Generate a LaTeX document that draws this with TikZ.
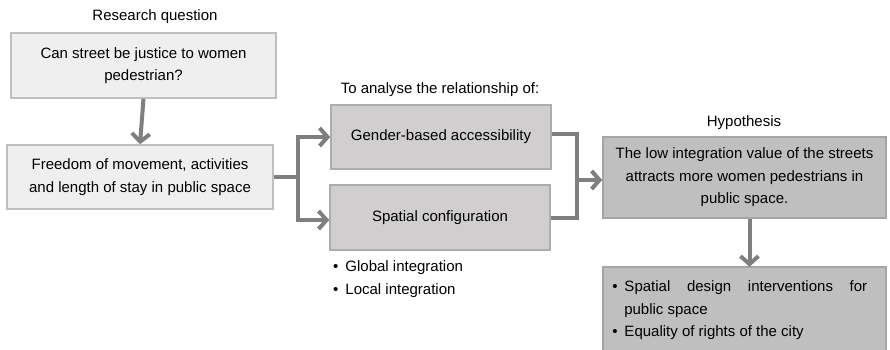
\documentclass[tikz,border=0pt]{standalone}
\usepackage{fontspec}
\setmainfont{Liberation Sans}
\usetikzlibrary{arrows.meta}
\definecolor{arrowgray}{HTML}{7F7F7F}
\definecolor{lightfill}{HTML}{EFEFEF}
\definecolor{lightborder}{HTML}{BFBFBF}
\definecolor{midfill}{HTML}{D0CECE}
\definecolor{midborder}{HTML}{ADADAD}
\definecolor{darkfill}{HTML}{BFBFBF}
\definecolor{darkborder}{HTML}{A5A5A5}
\tikzset{
  every node/.style={font=\fontsize{15}{22.5}\selectfont, inner sep=0pt},
  lightbox/.style={draw=lightborder, fill=lightfill, line width=1.5pt, align=center},
  midbox/.style={draw=midborder, fill=midfill, line width=1.5pt, align=center},
  darkbox/.style={draw=darkborder, fill=darkfill, line width=1.5pt, align=center},
  conn/.style={draw=arrowgray, line width=4pt},
  arr/.style={conn, -{Straight Barb[length=8pt,width=18pt]}},
}
\newcommand{\bul}{\textbullet\hspace*{7pt}}
\begin{document}
\begin{tikzpicture}[x=1pt,y=-1pt]
\useasboundingbox (0,0) rectangle (890,349);
% research question
\node (rql) at (155,17) {Research question};
\node[lightbox, minimum width=265pt, minimum height=65pt] (q) at (143.5,65.5)
  {Can street be justice to women\\pedestrian?};
\node[lightbox, minimum width=266pt, minimum height=64pt] (f) at (140,177)
  {Freedom of movement, activities\\and length of stay in public space};
% relationship
\node (rel) at (440,90) {To analyse the relationship of:};
\node[midbox, minimum width=220pt, minimum height=64pt] (g) at (441,137)
  {Gender-based accessibility};
\node[midbox, minimum width=220pt, minimum height=65pt] (s) at (440,217.5)
  {Spatial configuration};
\node[anchor=west, align=left] (sl) at (333,279)
  {\bul Global integration\\\bul Local integration};
% hypothesis
\node (hl) at (744,123) {Hypothesis};
\node[darkbox, minimum width=283pt, minimum height=81pt] (h) at (744.5,177.5)
  {The low integration value of the streets\\attracts more women pedestrians in\\public space.};
\node[fill=darkfill, minimum width=283pt, minimum height=87pt, align=left] (o) at (744.5,310.5)
  {\makebox[255pt][s]{\bul Spatial design interventions for}\\
   \hspace*{12pt}public space\\
   \bul Equality of rights of the city\hspace*{73pt}};
\draw[darkborder, line width=1.5pt] (o.south west) -- (o.north west) -- (o.north east) -- (o.south east);
% connectors
\draw[arr] (q.south) -- (f.north);
\coordinate (split) at (298,177);
\draw[conn] (f.east) -- (split);
\draw[arr] (split) |- (g.west);
\draw[arr] (split) |- ([yshift=-2.5pt]s.west);
\coordinate (join) at (577,180);
\draw[conn] ([yshift=3pt]g.east) -| (join);
\draw[conn] (s.east) -| (join);
\draw[arr] (join) -- (join -| h.west);
\draw[arr] ([xshift=5pt]h.south) -- ([xshift=5pt]o.north);
\end{tikzpicture}
\end{document}
